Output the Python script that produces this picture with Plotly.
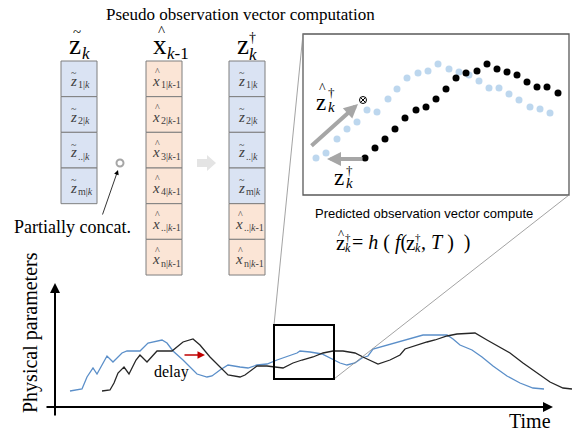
import plotly.graph_objects as go

SERIF = "Liberation Serif, Times New Roman, serif"
SANS = "Liberation Sans, Arial, sans-serif"

# ---------------- data ----------------
# time series (blue = observed/predicted, black = delayed)
blue_x = [70, 82, 87, 93, 97, 103, 107, 113, 122, 127, 140, 148, 162, 167, 173, 183, 197, 207, 212, 220,
          228, 240, 248, 257, 267, 277, 285, 297, 300, 310, 322, 333, 340, 347, 355, 362, 368, 373, 387,
          400, 408, 417, 423, 433, 447, 453, 460, 472, 482, 493, 507, 520, 533, 544]
blue_y = [391, 389, 377, 368, 374, 363, 356, 362, 353, 351, 351, 343, 340, 343, 351, 360, 374, 377, 376, 370,
          365, 367, 368, 365, 364, 360, 357, 353, 351, 352, 354, 359, 363, 365, 363, 358, 356, 349, 345,
          342, 339, 337, 335, 335, 335, 339, 345, 350, 357, 366, 376, 383, 388, 389]
black_x = [102, 110, 114, 118, 124, 129, 136, 140, 147, 157, 172, 183, 193, 200, 210, 220, 228, 240, 245,
           257, 267, 283, 293, 302, 313, 323, 333, 343, 355, 365, 378, 390, 400, 405, 417, 427, 435, 447,
           457, 475, 487, 500, 510, 523, 537, 550, 563, 572]
black_y = [391, 390, 383, 373, 367, 374, 360, 355, 362, 351, 351, 342, 339, 345, 357, 367, 375, 377, 375,
           366, 366, 368, 363, 360, 357, 353, 351, 351, 353, 358, 364, 360, 355, 349, 345, 342, 340, 336,
           334, 333, 340, 347, 353, 363, 373, 382, 388, 389]

# zoomed dots
pred_dot_x = [316, 326, 337, 347, 357, 367, 377, 388, 397, 407, 418, 428, 438, 449, 459, 469, 479, 489,
              499, 509, 519, 530, 540, 550]
pred_dot_y = [158, 153, 139, 129, 122, 110, 112, 99, 89, 78, 73, 71, 64, 69, 72, 75, 81, 88, 88, 94,
              100, 107, 109, 113]
obs_dot_x = [365, 375, 385, 395, 405, 416, 426, 436, 446, 456, 466, 477, 487, 497, 507, 517, 527, 537,
             547, 558]
obs_dot_y = [158, 148, 139, 129, 118, 110, 107, 99, 89, 78, 73, 71, 64, 69, 72, 75, 82, 87, 87, 93]

# vector cells
col1_subs = ["1|<i>k</i>", "2|<i>k</i>", "..|<i>k</i>", "m|<i>k</i>"]
col2_subs = ["1|<i>k</i>-1", "2|<i>k</i>-1", "3|<i>k</i>-1", "4|<i>k</i>-1", "..|<i>k</i>-1", "n|<i>k</i>-1"]
col3_subs = ["1|<i>k</i>", "2|<i>k</i>", "..|<i>k</i>", "m|<i>k</i>", "..|<i>k</i>-1", "n|<i>k</i>-1"]
col3_kind = ["z", "z", "z", "z", "x", "x"]

BLUE_FILL = "#dae3f3"
ORANGE_FILL = "#fbe5d6"

fig = go.Figure()
shapes = []
anns = []


def ann(x, y, text, size, family=SERIF, xanchor="center", yanchor="middle", color="black", angle=0):
    anns.append(dict(x=x, y=y, xref="x", yref="y", text=text, showarrow=False,
                     font=dict(size=size, family=family, color=color),
                     xanchor=xanchor, yanchor=yanchor, textangle=angle, borderpad=0))


def arrow(x0, y0, x1, y1, color, width, head=2, size=1.0):
    anns.append(dict(x=x1, y=y1, ax=x0, ay=y0, xref="x", yref="y", axref="x", ayref="y",
                     text="", showarrow=True, arrowhead=head, arrowsize=size, arrowwidth=width,
                     arrowcolor=color, standoff=0, startstandoff=0))


def line(x0, y0, x1, y1, color, width):
    shapes.append(dict(type="line", x0=x0, y0=y0, x1=x1, y1=y1, xref="x", yref="y",
                       line=dict(color=color, width=width)))


# ---------------- title ----------------
ann(240, 14, "Pseudo observation vector computation", 17)

# ---------------- column headers ----------------
ann(75, 45, "z", 27)
ann(77, 32, "~", 15)
ann(81, 53, "<i>k</i>", 17, xanchor="left")

ann(160, 45, "x", 27)
ann(161, 31, "^", 15)
ann(166, 53, "<i>k</i>-1", 17, xanchor="left")

ann(243, 45, "z", 27)
ann(248, 37, "†", 14, xanchor="left")
ann(248, 54, "<i>k</i>", 17, xanchor="left")

# ---------------- cells ----------------
TOP = 61
CH = 35.67
CW = 36


def cell(left, i, kind, sub):
    top = TOP + i * CH
    cy = top + CH / 2
    fill = BLUE_FILL if kind == "z" else ORANGE_FILL
    shapes.append(dict(type="rect", x0=left, x1=left + CW, y0=top, y1=top + CH, xref="x", yref="y",
                       fillcolor=fill, line=dict(color="#7f7f7f", width=1), layer="below"))
    if kind == "z":
        bx = left + 12
        ann(bx, cy + 2, "<i>z</i>", 15, color="#404040")
        ann(bx + 1, cy - 6, "~", 10, color="#404040")
        ann(bx + 4, cy + 6, sub, 10, xanchor="left", color="#404040")
    else:
        bx = left + 10
        ann(bx, cy + 2, "<i>x</i>", 15, color="#404040")
        ann(bx + 1, cy - 7, "^", 10, color="#404040")
        ann(bx + 4, cy + 6, sub, 10, xanchor="left", color="#404040")


for i, s in enumerate(col1_subs):
    cell(61, i, "z", s)
for i, s in enumerate(col2_subs):
    cell(146, i, "x", s)
for i, (s, k) in enumerate(zip(col3_subs, col3_kind)):
    cell(229, i, k, s)

# partially concat
shapes.append(dict(type="circle", x0=116.5, x1=123.5, y0=159.5, y1=166.5, xref="x", yref="y",
                   line=dict(color="#a6a6a6", width=2)))
arrow(102, 216, 118, 170, "#000000", 0.8, head=2, size=1.2)
ann(72, 227, "Partially concat.", 18)

# block arrow between columns
shapes.append(dict(type="path", path="M 197 159 L 207 159 L 207 155 L 216 163 L 207 171 L 207 167 L 197 167 Z",
                   xref="x", yref="y", fillcolor="#e4e4e4", line=dict(width=0)))

# ---------------- zoom panel ----------------
shapes.append(dict(type="rect", x0=303, x1=569, y0=34, y1=195, xref="x", yref="y",
                   line=dict(color="#595959", width=1.3)))
line(303, 34, 274, 325, "#8c8c8c", 0.8)
line(569, 195, 334, 379, "#8c8c8c", 0.8)

fig.add_trace(go.Scatter(x=pred_dot_x, y=pred_dot_y, mode="markers",
                         marker=dict(size=7, color="#bdd7ee"), hoverinfo="skip"))
fig.add_trace(go.Scatter(x=obs_dot_x, y=obs_dot_y, mode="markers",
                         marker=dict(size=7, color="#000000"), hoverinfo="skip"))
fig.add_trace(go.Scatter(x=[363], y=[100], mode="markers",
                         marker=dict(size=7, symbol="circle-x-open", color="#000000", line=dict(width=1)),
                         hoverinfo="skip"))

arrow(310, 147, 358, 104, "#a6a6a6", 4, head=2, size=0.7)
arrow(364, 159, 327, 159, "#a6a6a6", 4, head=2, size=0.7)

# z-hat dagger label
ann(321, 102, "z", 23)
ann(322, 88, "^", 14)
ann(327, 92, "†", 13, xanchor="left")
ann(327, 107, "<i>k</i>", 15, xanchor="left")
# z dagger label
ann(339, 177, "z", 23)
ann(345, 170, "†", 13, xanchor="left")
ann(345, 183, "<i>k</i>", 15, xanchor="left")

ann(424, 213, "Predicted observation vector compute", 13, family=SANS)

# formula
ann(340, 243, "z", 21)
ann(341, 233, "^", 13)
ann(344, 237, "†", 11, xanchor="left")
ann(344, 248, "<i>k</i>", 12, xanchor="left")
ann(351, 242, "= <i>h</i> ( <i>f</i>(", 20, xanchor="left")
ann(410, 243, "z", 21)
ann(414, 237, "†", 11, xanchor="left")
ann(414, 248, "<i>k</i>", 12, xanchor="left")
ann(420, 242, ",\u00a0<i>T</i> )\u00a0\u00a0)", 20, xanchor="left")

# ---------------- main time series ----------------
fig.add_trace(go.Scatter(x=blue_x, y=blue_y, mode="lines", line=dict(color="#5b8fc9", width=1.3),
                         hoverinfo="skip"))
fig.add_trace(go.Scatter(x=black_x, y=black_y, mode="lines", line=dict(color="#262626", width=1.3),
                         hoverinfo="skip"))

shapes.append(dict(type="rect", x0=274, x1=334, y0=325, y1=379, xref="x", yref="y",
                   line=dict(color="#000000", width=2)))

# axes with arrows
arrow(55, 417, 55, 283, "#000000", 2, head=2, size=1)
arrow(45, 407, 553, 407, "#000000", 2, head=2, size=1)

ann(30, 333, "Physical parameters", 20, angle=-90)
ann(530, 421, "Time", 20)
ann(171, 372, "delay", 16)
arrow(183, 355, 205, 355, "#c00000", 1.5, head=2, size=1)

fig.update_layout(
    width=573, height=436, autosize=False,
    margin=dict(l=0, r=0, t=0, b=0),
    paper_bgcolor="white", plot_bgcolor="white",
    showlegend=False,
    xaxis=dict(range=[0, 573], visible=False, fixedrange=True),
    yaxis=dict(range=[436, 0], visible=False, fixedrange=True),
    shapes=shapes, annotations=anns,
)

fig.write_html("out.html")
